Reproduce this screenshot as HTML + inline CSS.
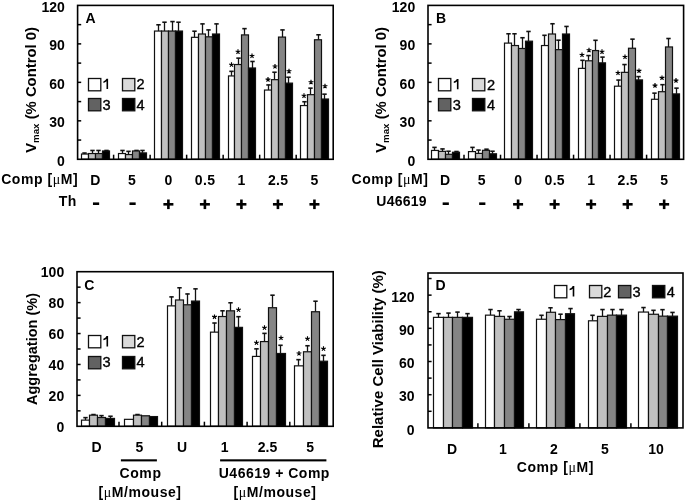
<!DOCTYPE html><html><head><meta charset="utf-8"><style>html,body{margin:0;padding:0;background:#fff;}svg{display:block;filter:grayscale(1);font-family:"Liberation Sans",sans-serif;}html,body{overflow:hidden;}</style></head><body>
<svg width="685" height="501" viewBox="0 0 685 501" font-family="Liberation Sans, sans-serif">
<rect width="685" height="501" fill="#fff"/>
<line x1="84.50" y1="154.04" x2="84.50" y2="152.89" stroke="#111" stroke-width="1.3"/>
<line x1="82.30" y1="153.04" x2="86.70" y2="153.04" stroke="#111" stroke-width="1.6"/>
<line x1="92.50" y1="153.53" x2="92.50" y2="150.32" stroke="#111" stroke-width="1.3"/>
<line x1="90.30" y1="150.47" x2="94.70" y2="150.47" stroke="#111" stroke-width="1.6"/>
<line x1="98.50" y1="153.53" x2="98.50" y2="150.32" stroke="#111" stroke-width="1.3"/>
<line x1="96.30" y1="150.47" x2="100.70" y2="150.47" stroke="#111" stroke-width="1.6"/>
<line x1="106.50" y1="150.96" x2="106.50" y2="150.32" stroke="#111" stroke-width="1.3"/>
<line x1="104.30" y1="150.47" x2="108.70" y2="150.47" stroke="#111" stroke-width="1.6"/>
<rect x="81.50" y="154.04" width="7.00" height="5.26" fill="#ffffff" stroke="#111" stroke-width="1.2"/>
<rect x="88.50" y="153.53" width="7.00" height="5.77" fill="#c0c0c0" stroke="#111" stroke-width="1.2"/>
<rect x="95.50" y="153.53" width="7.00" height="5.77" fill="#858585" stroke="#111" stroke-width="1.2"/>
<rect x="102.50" y="150.96" width="7.00" height="8.34" fill="#000000" stroke="#111" stroke-width="1.2"/>
<line x1="122.50" y1="153.53" x2="122.50" y2="150.32" stroke="#111" stroke-width="1.3"/>
<line x1="120.30" y1="150.47" x2="124.70" y2="150.47" stroke="#111" stroke-width="1.6"/>
<line x1="128.50" y1="154.55" x2="128.50" y2="151.22" stroke="#111" stroke-width="1.3"/>
<line x1="126.30" y1="151.37" x2="130.70" y2="151.37" stroke="#111" stroke-width="1.6"/>
<line x1="136.50" y1="150.96" x2="136.50" y2="150.32" stroke="#111" stroke-width="1.3"/>
<line x1="134.30" y1="150.47" x2="138.70" y2="150.47" stroke="#111" stroke-width="1.6"/>
<line x1="142.50" y1="152.89" x2="142.50" y2="150.32" stroke="#111" stroke-width="1.3"/>
<line x1="140.30" y1="150.47" x2="144.70" y2="150.47" stroke="#111" stroke-width="1.6"/>
<rect x="118.50" y="153.53" width="7.00" height="5.77" fill="#ffffff" stroke="#111" stroke-width="1.2"/>
<rect x="125.50" y="154.55" width="7.00" height="4.75" fill="#c0c0c0" stroke="#111" stroke-width="1.2"/>
<rect x="132.50" y="150.96" width="7.00" height="8.34" fill="#858585" stroke="#111" stroke-width="1.2"/>
<rect x="139.50" y="152.89" width="7.00" height="6.41" fill="#000000" stroke="#111" stroke-width="1.2"/>
<line x1="158.50" y1="31.05" x2="158.50" y2="24.64" stroke="#111" stroke-width="1.3"/>
<line x1="156.30" y1="24.79" x2="160.70" y2="24.79" stroke="#111" stroke-width="1.6"/>
<line x1="164.50" y1="31.05" x2="164.50" y2="22.07" stroke="#111" stroke-width="1.3"/>
<line x1="162.30" y1="22.22" x2="166.70" y2="22.22" stroke="#111" stroke-width="1.6"/>
<line x1="172.50" y1="31.05" x2="172.50" y2="21.43" stroke="#111" stroke-width="1.3"/>
<line x1="170.30" y1="21.58" x2="174.70" y2="21.58" stroke="#111" stroke-width="1.6"/>
<line x1="178.50" y1="31.05" x2="178.50" y2="22.07" stroke="#111" stroke-width="1.3"/>
<line x1="176.30" y1="22.22" x2="180.70" y2="22.22" stroke="#111" stroke-width="1.6"/>
<rect x="154.50" y="31.05" width="7.00" height="128.25" fill="#ffffff" stroke="#111" stroke-width="1.2"/>
<rect x="161.50" y="31.05" width="7.00" height="128.25" fill="#c0c0c0" stroke="#111" stroke-width="1.2"/>
<rect x="168.50" y="31.05" width="7.00" height="128.25" fill="#858585" stroke="#111" stroke-width="1.2"/>
<rect x="175.50" y="31.05" width="7.00" height="128.25" fill="#000000" stroke="#111" stroke-width="1.2"/>
<line x1="194.50" y1="37.33" x2="194.50" y2="31.05" stroke="#111" stroke-width="1.3"/>
<line x1="192.30" y1="31.20" x2="196.70" y2="31.20" stroke="#111" stroke-width="1.6"/>
<line x1="202.50" y1="34.00" x2="202.50" y2="23.74" stroke="#111" stroke-width="1.3"/>
<line x1="200.30" y1="23.89" x2="204.70" y2="23.89" stroke="#111" stroke-width="1.6"/>
<line x1="208.50" y1="36.82" x2="208.50" y2="29.77" stroke="#111" stroke-width="1.3"/>
<line x1="206.30" y1="29.92" x2="210.70" y2="29.92" stroke="#111" stroke-width="1.6"/>
<line x1="216.50" y1="34.00" x2="216.50" y2="23.74" stroke="#111" stroke-width="1.3"/>
<line x1="214.30" y1="23.89" x2="218.70" y2="23.89" stroke="#111" stroke-width="1.6"/>
<rect x="191.50" y="37.33" width="7.00" height="121.97" fill="#ffffff" stroke="#111" stroke-width="1.2"/>
<rect x="198.50" y="34.00" width="7.00" height="125.30" fill="#c0c0c0" stroke="#111" stroke-width="1.2"/>
<rect x="205.50" y="36.82" width="7.00" height="122.48" fill="#858585" stroke="#111" stroke-width="1.2"/>
<rect x="212.50" y="34.00" width="7.00" height="125.30" fill="#000000" stroke="#111" stroke-width="1.2"/>
<line x1="231.50" y1="75.94" x2="231.50" y2="71.19" stroke="#111" stroke-width="1.3"/>
<line x1="229.30" y1="71.34" x2="233.70" y2="71.34" stroke="#111" stroke-width="1.6"/>
<line x1="238.50" y1="64.52" x2="238.50" y2="57.98" stroke="#111" stroke-width="1.3"/>
<line x1="236.30" y1="58.13" x2="240.70" y2="58.13" stroke="#111" stroke-width="1.6"/>
<line x1="244.50" y1="34.90" x2="244.50" y2="28.49" stroke="#111" stroke-width="1.3"/>
<line x1="242.30" y1="28.64" x2="246.70" y2="28.64" stroke="#111" stroke-width="1.6"/>
<line x1="252.50" y1="67.99" x2="252.50" y2="61.32" stroke="#111" stroke-width="1.3"/>
<line x1="250.30" y1="61.47" x2="254.70" y2="61.47" stroke="#111" stroke-width="1.6"/>
<rect x="228.50" y="75.94" width="6.00" height="83.36" fill="#ffffff" stroke="#111" stroke-width="1.2"/>
<rect x="234.50" y="64.52" width="7.00" height="94.78" fill="#c0c0c0" stroke="#111" stroke-width="1.2"/>
<rect x="241.50" y="34.90" width="7.00" height="124.40" fill="#858585" stroke="#111" stroke-width="1.2"/>
<rect x="248.50" y="67.99" width="7.00" height="91.31" fill="#000000" stroke="#111" stroke-width="1.2"/>
<path d="M231.50 64.70L231.50 62.20M231.50 64.70L233.88 63.93M231.50 64.70L232.97 66.72M231.50 64.70L230.03 66.72M231.50 64.70L229.12 63.93" stroke="#000" stroke-width="1.15" stroke-linecap="butt" fill="none"/>
<path d="M238.00 51.80L238.00 49.30M238.00 51.80L240.38 51.03M238.00 51.80L239.47 53.82M238.00 51.80L236.53 53.82M238.00 51.80L235.62 51.03" stroke="#000" stroke-width="1.15" stroke-linecap="butt" fill="none"/>
<path d="M252.00 56.00L252.00 53.50M252.00 56.00L254.38 55.23M252.00 56.00L253.47 58.02M252.00 56.00L250.53 58.02M252.00 56.00L249.62 55.23" stroke="#000" stroke-width="1.15" stroke-linecap="butt" fill="none"/>
<line x1="268.50" y1="90.05" x2="268.50" y2="84.79" stroke="#111" stroke-width="1.3"/>
<line x1="266.30" y1="84.94" x2="270.70" y2="84.94" stroke="#111" stroke-width="1.6"/>
<line x1="274.50" y1="79.66" x2="274.50" y2="72.09" stroke="#111" stroke-width="1.3"/>
<line x1="272.30" y1="72.24" x2="276.70" y2="72.24" stroke="#111" stroke-width="1.6"/>
<line x1="282.50" y1="37.08" x2="282.50" y2="29.77" stroke="#111" stroke-width="1.3"/>
<line x1="280.30" y1="29.92" x2="284.70" y2="29.92" stroke="#111" stroke-width="1.6"/>
<line x1="288.50" y1="83.12" x2="288.50" y2="77.09" stroke="#111" stroke-width="1.3"/>
<line x1="286.30" y1="77.24" x2="290.70" y2="77.24" stroke="#111" stroke-width="1.6"/>
<rect x="264.50" y="90.05" width="7.00" height="69.25" fill="#ffffff" stroke="#111" stroke-width="1.2"/>
<rect x="271.50" y="79.66" width="7.00" height="79.64" fill="#c0c0c0" stroke="#111" stroke-width="1.2"/>
<rect x="278.50" y="37.08" width="7.00" height="122.22" fill="#858585" stroke="#111" stroke-width="1.2"/>
<rect x="285.50" y="83.12" width="7.00" height="76.18" fill="#000000" stroke="#111" stroke-width="1.2"/>
<path d="M268.00 79.60L268.00 77.10M268.00 79.60L270.38 78.83M268.00 79.60L269.47 81.62M268.00 79.60L266.53 81.62M268.00 79.60L265.62 78.83" stroke="#000" stroke-width="1.15" stroke-linecap="butt" fill="none"/>
<path d="M275.00 66.50L275.00 64.00M275.00 66.50L277.38 65.73M275.00 66.50L276.47 68.52M275.00 66.50L273.53 68.52M275.00 66.50L272.62 65.73" stroke="#000" stroke-width="1.15" stroke-linecap="butt" fill="none"/>
<path d="M289.00 71.30L289.00 68.80M289.00 71.30L291.38 70.53M289.00 71.30L290.47 73.32M289.00 71.30L287.53 73.32M289.00 71.30L286.62 70.53" stroke="#000" stroke-width="1.15" stroke-linecap="butt" fill="none"/>
<line x1="304.50" y1="105.56" x2="304.50" y2="101.59" stroke="#111" stroke-width="1.3"/>
<line x1="302.30" y1="101.74" x2="306.70" y2="101.74" stroke="#111" stroke-width="1.6"/>
<line x1="310.50" y1="94.66" x2="310.50" y2="87.99" stroke="#111" stroke-width="1.3"/>
<line x1="308.30" y1="88.14" x2="312.70" y2="88.14" stroke="#111" stroke-width="1.6"/>
<line x1="318.50" y1="39.77" x2="318.50" y2="34.64" stroke="#111" stroke-width="1.3"/>
<line x1="316.30" y1="34.79" x2="320.70" y2="34.79" stroke="#111" stroke-width="1.6"/>
<line x1="324.50" y1="99.02" x2="324.50" y2="94.02" stroke="#111" stroke-width="1.3"/>
<line x1="322.30" y1="94.17" x2="326.70" y2="94.17" stroke="#111" stroke-width="1.6"/>
<rect x="300.50" y="105.56" width="7.00" height="53.74" fill="#ffffff" stroke="#111" stroke-width="1.2"/>
<rect x="307.50" y="94.66" width="7.00" height="64.64" fill="#c0c0c0" stroke="#111" stroke-width="1.2"/>
<rect x="314.50" y="39.77" width="7.00" height="119.53" fill="#858585" stroke="#111" stroke-width="1.2"/>
<rect x="321.50" y="99.02" width="7.00" height="60.28" fill="#000000" stroke="#111" stroke-width="1.2"/>
<path d="M304.00 95.80L304.00 93.30M304.00 95.80L306.38 95.03M304.00 95.80L305.47 97.82M304.00 95.80L302.53 97.82M304.00 95.80L301.62 95.03" stroke="#000" stroke-width="1.15" stroke-linecap="butt" fill="none"/>
<path d="M311.00 82.20L311.00 79.70M311.00 82.20L313.38 81.43M311.00 82.20L312.47 84.22M311.00 82.20L309.53 84.22M311.00 82.20L308.62 81.43" stroke="#000" stroke-width="1.15" stroke-linecap="butt" fill="none"/>
<path d="M325.00 86.20L325.00 83.70M325.00 86.20L327.38 85.43M325.00 86.20L326.47 88.22M325.00 86.20L323.53 88.22M325.00 86.20L322.62 85.43" stroke="#000" stroke-width="1.15" stroke-linecap="butt" fill="none"/>
<rect x="77.60" y="5.40" width="255.60" height="153.90" fill="none" stroke="#000" stroke-width="1.6"/>
<line x1="77.60" y1="140.06" x2="81.20" y2="140.06" stroke="#000" stroke-width="1.5"/>
<line x1="77.60" y1="120.83" x2="81.20" y2="120.83" stroke="#000" stroke-width="1.5"/>
<line x1="77.60" y1="101.59" x2="81.20" y2="101.59" stroke="#000" stroke-width="1.5"/>
<line x1="77.60" y1="82.35" x2="81.20" y2="82.35" stroke="#000" stroke-width="1.5"/>
<line x1="77.60" y1="63.11" x2="81.20" y2="63.11" stroke="#000" stroke-width="1.5"/>
<line x1="77.60" y1="43.88" x2="81.20" y2="43.88" stroke="#000" stroke-width="1.5"/>
<line x1="77.60" y1="24.64" x2="81.20" y2="24.64" stroke="#000" stroke-width="1.5"/>
<line x1="113.61" y1="159.30" x2="113.61" y2="154.70" stroke="#000" stroke-width="1.5"/>
<line x1="150.13" y1="159.30" x2="150.13" y2="154.70" stroke="#000" stroke-width="1.5"/>
<line x1="186.64" y1="159.30" x2="186.64" y2="154.70" stroke="#000" stroke-width="1.5"/>
<line x1="223.16" y1="159.30" x2="223.16" y2="154.70" stroke="#000" stroke-width="1.5"/>
<line x1="259.67" y1="159.30" x2="259.67" y2="154.70" stroke="#000" stroke-width="1.5"/>
<line x1="296.19" y1="159.30" x2="296.19" y2="154.70" stroke="#000" stroke-width="1.5"/>
<text x="64.80" y="165.60" font-size="14" text-anchor="end" font-weight="bold" >0</text>
<text x="64.80" y="127.13" font-size="14" text-anchor="end" font-weight="bold" >30</text>
<text x="64.80" y="88.65" font-size="14" text-anchor="end" font-weight="bold" >60</text>
<text x="64.80" y="50.18" font-size="14" text-anchor="end" font-weight="bold" >90</text>
<text x="64.80" y="11.70" font-size="14" text-anchor="end" font-weight="bold" >120</text>
<text x="85.50" y="23.10" font-size="14" text-anchor="start" font-weight="bold" >A</text>
<rect x="88.50" y="78.50" width="12.30" height="12.30" fill="#ffffff" stroke="#111" stroke-width="1.3"/>
<path d="M106.50 78.70L108.10 78.70L108.10 89.00L106.50 89.00L106.50 81.30Q105.30 82.50 103.40 82.90L103.40 81.40Q105.70 80.60 106.50 78.70Z" fill="#000"/>
<rect x="122.50" y="78.50" width="12.30" height="12.30" fill="#d9d9d9" stroke="#111" stroke-width="1.3"/>
<text x="136.50" y="89.30" font-size="14.6" font-weight="normal" stroke="#000" stroke-width="0.35">2</text>
<rect x="88.50" y="98.50" width="12.30" height="12.30" fill="#626262" stroke="#111" stroke-width="1.3"/>
<text x="102.40" y="109.70" font-size="14.6" font-weight="normal" stroke="#000" stroke-width="0.35">3</text>
<rect x="122.50" y="98.50" width="12.30" height="12.30" fill="#000000" stroke="#111" stroke-width="1.3"/>
<text x="136.50" y="109.70" font-size="14.6" font-weight="normal" stroke="#000" stroke-width="0.35">4</text>
<line x1="434.50" y1="150.45" x2="434.50" y2="147.24" stroke="#111" stroke-width="1.3"/>
<line x1="432.30" y1="147.39" x2="436.70" y2="147.39" stroke="#111" stroke-width="1.6"/>
<line x1="442.50" y1="151.35" x2="442.50" y2="148.78" stroke="#111" stroke-width="1.3"/>
<line x1="440.30" y1="148.93" x2="444.70" y2="148.93" stroke="#111" stroke-width="1.6"/>
<line x1="448.50" y1="154.30" x2="448.50" y2="151.09" stroke="#111" stroke-width="1.3"/>
<line x1="446.30" y1="151.24" x2="450.70" y2="151.24" stroke="#111" stroke-width="1.6"/>
<line x1="456.50" y1="152.25" x2="456.50" y2="151.35" stroke="#111" stroke-width="1.3"/>
<line x1="454.30" y1="151.50" x2="458.70" y2="151.50" stroke="#111" stroke-width="1.6"/>
<rect x="431.50" y="150.45" width="7.00" height="8.85" fill="#ffffff" stroke="#111" stroke-width="1.2"/>
<rect x="438.50" y="151.35" width="7.00" height="7.95" fill="#c0c0c0" stroke="#111" stroke-width="1.2"/>
<rect x="445.50" y="154.30" width="7.00" height="5.00" fill="#858585" stroke="#111" stroke-width="1.2"/>
<rect x="452.50" y="152.25" width="7.00" height="7.05" fill="#000000" stroke="#111" stroke-width="1.2"/>
<line x1="472.50" y1="151.61" x2="472.50" y2="147.24" stroke="#111" stroke-width="1.3"/>
<line x1="470.30" y1="147.39" x2="474.70" y2="147.39" stroke="#111" stroke-width="1.6"/>
<line x1="478.50" y1="153.40" x2="478.50" y2="149.94" stroke="#111" stroke-width="1.3"/>
<line x1="476.30" y1="150.09" x2="480.70" y2="150.09" stroke="#111" stroke-width="1.6"/>
<line x1="486.50" y1="150.32" x2="486.50" y2="149.04" stroke="#111" stroke-width="1.3"/>
<line x1="484.30" y1="149.19" x2="488.70" y2="149.19" stroke="#111" stroke-width="1.6"/>
<line x1="492.50" y1="153.79" x2="492.50" y2="151.09" stroke="#111" stroke-width="1.3"/>
<line x1="490.30" y1="151.24" x2="494.70" y2="151.24" stroke="#111" stroke-width="1.6"/>
<rect x="468.50" y="151.61" width="7.00" height="7.69" fill="#ffffff" stroke="#111" stroke-width="1.2"/>
<rect x="475.50" y="153.40" width="7.00" height="5.90" fill="#c0c0c0" stroke="#111" stroke-width="1.2"/>
<rect x="482.50" y="150.32" width="7.00" height="8.98" fill="#858585" stroke="#111" stroke-width="1.2"/>
<rect x="489.50" y="153.79" width="7.00" height="5.51" fill="#000000" stroke="#111" stroke-width="1.2"/>
<line x1="508.50" y1="43.11" x2="508.50" y2="33.62" stroke="#111" stroke-width="1.3"/>
<line x1="506.30" y1="33.77" x2="510.70" y2="33.77" stroke="#111" stroke-width="1.6"/>
<line x1="514.50" y1="45.54" x2="514.50" y2="33.62" stroke="#111" stroke-width="1.3"/>
<line x1="512.30" y1="33.77" x2="516.70" y2="33.77" stroke="#111" stroke-width="1.6"/>
<line x1="522.50" y1="48.49" x2="522.50" y2="37.59" stroke="#111" stroke-width="1.3"/>
<line x1="520.30" y1="37.74" x2="524.70" y2="37.74" stroke="#111" stroke-width="1.6"/>
<line x1="528.50" y1="41.18" x2="528.50" y2="31.31" stroke="#111" stroke-width="1.3"/>
<line x1="526.30" y1="31.46" x2="530.70" y2="31.46" stroke="#111" stroke-width="1.6"/>
<rect x="504.50" y="43.11" width="7.00" height="116.19" fill="#ffffff" stroke="#111" stroke-width="1.2"/>
<rect x="511.50" y="45.54" width="7.00" height="113.76" fill="#c0c0c0" stroke="#111" stroke-width="1.2"/>
<rect x="518.50" y="48.49" width="7.00" height="110.81" fill="#858585" stroke="#111" stroke-width="1.2"/>
<rect x="525.50" y="41.18" width="7.00" height="118.12" fill="#000000" stroke="#111" stroke-width="1.2"/>
<line x1="544.50" y1="45.54" x2="544.50" y2="35.15" stroke="#111" stroke-width="1.3"/>
<line x1="542.30" y1="35.30" x2="546.70" y2="35.30" stroke="#111" stroke-width="1.6"/>
<line x1="552.50" y1="34.00" x2="552.50" y2="23.61" stroke="#111" stroke-width="1.3"/>
<line x1="550.30" y1="23.76" x2="554.70" y2="23.76" stroke="#111" stroke-width="1.6"/>
<line x1="558.50" y1="49.65" x2="558.50" y2="40.03" stroke="#111" stroke-width="1.3"/>
<line x1="556.30" y1="40.18" x2="560.70" y2="40.18" stroke="#111" stroke-width="1.6"/>
<line x1="566.50" y1="34.00" x2="566.50" y2="26.30" stroke="#111" stroke-width="1.3"/>
<line x1="564.30" y1="26.45" x2="568.70" y2="26.45" stroke="#111" stroke-width="1.6"/>
<rect x="541.50" y="45.54" width="7.00" height="113.76" fill="#ffffff" stroke="#111" stroke-width="1.2"/>
<rect x="548.50" y="34.00" width="7.00" height="125.30" fill="#c0c0c0" stroke="#111" stroke-width="1.2"/>
<rect x="555.50" y="49.65" width="7.00" height="109.65" fill="#858585" stroke="#111" stroke-width="1.2"/>
<rect x="562.50" y="34.00" width="7.00" height="125.30" fill="#000000" stroke="#111" stroke-width="1.2"/>
<line x1="582.50" y1="68.37" x2="582.50" y2="60.16" stroke="#111" stroke-width="1.3"/>
<line x1="580.30" y1="60.31" x2="584.70" y2="60.31" stroke="#111" stroke-width="1.6"/>
<line x1="588.50" y1="60.80" x2="588.50" y2="55.42" stroke="#111" stroke-width="1.3"/>
<line x1="586.30" y1="55.57" x2="590.70" y2="55.57" stroke="#111" stroke-width="1.6"/>
<line x1="595.50" y1="50.54" x2="595.50" y2="40.16" stroke="#111" stroke-width="1.3"/>
<line x1="593.30" y1="40.31" x2="597.70" y2="40.31" stroke="#111" stroke-width="1.6"/>
<line x1="602.50" y1="62.86" x2="602.50" y2="56.96" stroke="#111" stroke-width="1.3"/>
<line x1="600.30" y1="57.11" x2="604.70" y2="57.11" stroke="#111" stroke-width="1.6"/>
<rect x="578.50" y="68.37" width="7.00" height="90.93" fill="#ffffff" stroke="#111" stroke-width="1.2"/>
<rect x="585.50" y="60.80" width="7.00" height="98.50" fill="#c0c0c0" stroke="#111" stroke-width="1.2"/>
<rect x="592.50" y="50.54" width="6.00" height="108.76" fill="#858585" stroke="#111" stroke-width="1.2"/>
<rect x="598.50" y="62.86" width="7.00" height="96.44" fill="#000000" stroke="#111" stroke-width="1.2"/>
<path d="M582.00 55.00L582.00 52.50M582.00 55.00L584.38 54.23M582.00 55.00L583.47 57.02M582.00 55.00L580.53 57.02M582.00 55.00L579.62 54.23" stroke="#000" stroke-width="1.15" stroke-linecap="butt" fill="none"/>
<path d="M589.00 50.20L589.00 47.70M589.00 50.20L591.38 49.43M589.00 50.20L590.47 52.22M589.00 50.20L587.53 52.22M589.00 50.20L586.62 49.43" stroke="#000" stroke-width="1.15" stroke-linecap="butt" fill="none"/>
<path d="M602.00 51.80L602.00 49.30M602.00 51.80L604.38 51.03M602.00 51.80L603.47 53.82M602.00 51.80L600.53 53.82M602.00 51.80L599.62 51.03" stroke="#000" stroke-width="1.15" stroke-linecap="butt" fill="none"/>
<line x1="618.50" y1="86.20" x2="618.50" y2="79.91" stroke="#111" stroke-width="1.3"/>
<line x1="616.30" y1="80.06" x2="620.70" y2="80.06" stroke="#111" stroke-width="1.6"/>
<line x1="624.50" y1="72.35" x2="624.50" y2="64.40" stroke="#111" stroke-width="1.3"/>
<line x1="622.30" y1="64.55" x2="626.70" y2="64.55" stroke="#111" stroke-width="1.6"/>
<line x1="632.50" y1="48.24" x2="632.50" y2="39.00" stroke="#111" stroke-width="1.3"/>
<line x1="630.30" y1="39.15" x2="634.70" y2="39.15" stroke="#111" stroke-width="1.6"/>
<line x1="638.50" y1="79.91" x2="638.50" y2="76.45" stroke="#111" stroke-width="1.3"/>
<line x1="636.30" y1="76.60" x2="640.70" y2="76.60" stroke="#111" stroke-width="1.6"/>
<rect x="614.50" y="86.20" width="7.00" height="73.10" fill="#ffffff" stroke="#111" stroke-width="1.2"/>
<rect x="621.50" y="72.35" width="7.00" height="86.95" fill="#c0c0c0" stroke="#111" stroke-width="1.2"/>
<rect x="628.50" y="48.24" width="7.00" height="111.06" fill="#858585" stroke="#111" stroke-width="1.2"/>
<rect x="635.50" y="79.91" width="7.00" height="79.39" fill="#000000" stroke="#111" stroke-width="1.2"/>
<path d="M618.00 73.00L618.00 70.50M618.00 73.00L620.38 72.23M618.00 73.00L619.47 75.02M618.00 73.00L616.53 75.02M618.00 73.00L615.62 72.23" stroke="#000" stroke-width="1.15" stroke-linecap="butt" fill="none"/>
<path d="M625.00 57.00L625.00 54.50M625.00 57.00L627.38 56.23M625.00 57.00L626.47 59.02M625.00 57.00L623.53 59.02M625.00 57.00L622.62 56.23" stroke="#000" stroke-width="1.15" stroke-linecap="butt" fill="none"/>
<path d="M639.00 70.90L639.00 68.40M639.00 70.90L641.38 70.13M639.00 70.90L640.47 72.92M639.00 70.90L637.53 72.92M639.00 70.90L636.62 70.13" stroke="#000" stroke-width="1.15" stroke-linecap="butt" fill="none"/>
<line x1="654.50" y1="99.28" x2="654.50" y2="92.99" stroke="#111" stroke-width="1.3"/>
<line x1="652.30" y1="93.14" x2="656.70" y2="93.14" stroke="#111" stroke-width="1.6"/>
<line x1="662.50" y1="91.71" x2="662.50" y2="84.53" stroke="#111" stroke-width="1.3"/>
<line x1="660.30" y1="84.68" x2="664.70" y2="84.68" stroke="#111" stroke-width="1.6"/>
<line x1="668.50" y1="46.95" x2="668.50" y2="38.36" stroke="#111" stroke-width="1.3"/>
<line x1="666.30" y1="38.51" x2="670.70" y2="38.51" stroke="#111" stroke-width="1.6"/>
<line x1="676.50" y1="93.89" x2="676.50" y2="87.99" stroke="#111" stroke-width="1.3"/>
<line x1="674.30" y1="88.14" x2="678.70" y2="88.14" stroke="#111" stroke-width="1.6"/>
<rect x="651.50" y="99.28" width="7.00" height="60.02" fill="#ffffff" stroke="#111" stroke-width="1.2"/>
<rect x="658.50" y="91.71" width="7.00" height="67.59" fill="#c0c0c0" stroke="#111" stroke-width="1.2"/>
<rect x="665.50" y="46.95" width="7.00" height="112.35" fill="#858585" stroke="#111" stroke-width="1.2"/>
<rect x="672.50" y="93.89" width="7.00" height="65.41" fill="#000000" stroke="#111" stroke-width="1.2"/>
<path d="M655.00 85.60L655.00 83.10M655.00 85.60L657.38 84.83M655.00 85.60L656.47 87.62M655.00 85.60L653.53 87.62M655.00 85.60L652.62 84.83" stroke="#000" stroke-width="1.15" stroke-linecap="butt" fill="none"/>
<path d="M662.00 77.90L662.00 75.40M662.00 77.90L664.38 77.13M662.00 77.90L663.47 79.92M662.00 77.90L660.53 79.92M662.00 77.90L659.62 77.13" stroke="#000" stroke-width="1.15" stroke-linecap="butt" fill="none"/>
<path d="M676.00 80.60L676.00 78.10M676.00 80.60L678.38 79.83M676.00 80.60L677.47 82.62M676.00 80.60L674.53 82.62M676.00 80.60L673.62 79.83" stroke="#000" stroke-width="1.15" stroke-linecap="butt" fill="none"/>
<rect x="428.00" y="5.40" width="255.60" height="153.90" fill="none" stroke="#000" stroke-width="1.6"/>
<line x1="428.00" y1="140.06" x2="431.60" y2="140.06" stroke="#000" stroke-width="1.5"/>
<line x1="428.00" y1="120.83" x2="431.60" y2="120.83" stroke="#000" stroke-width="1.5"/>
<line x1="428.00" y1="101.59" x2="431.60" y2="101.59" stroke="#000" stroke-width="1.5"/>
<line x1="428.00" y1="82.35" x2="431.60" y2="82.35" stroke="#000" stroke-width="1.5"/>
<line x1="428.00" y1="63.11" x2="431.60" y2="63.11" stroke="#000" stroke-width="1.5"/>
<line x1="428.00" y1="43.88" x2="431.60" y2="43.88" stroke="#000" stroke-width="1.5"/>
<line x1="428.00" y1="24.64" x2="431.60" y2="24.64" stroke="#000" stroke-width="1.5"/>
<line x1="464.01" y1="159.30" x2="464.01" y2="154.70" stroke="#000" stroke-width="1.5"/>
<line x1="500.53" y1="159.30" x2="500.53" y2="154.70" stroke="#000" stroke-width="1.5"/>
<line x1="537.04" y1="159.30" x2="537.04" y2="154.70" stroke="#000" stroke-width="1.5"/>
<line x1="573.56" y1="159.30" x2="573.56" y2="154.70" stroke="#000" stroke-width="1.5"/>
<line x1="610.07" y1="159.30" x2="610.07" y2="154.70" stroke="#000" stroke-width="1.5"/>
<line x1="646.59" y1="159.30" x2="646.59" y2="154.70" stroke="#000" stroke-width="1.5"/>
<text x="415.20" y="165.60" font-size="14" text-anchor="end" font-weight="bold" >0</text>
<text x="415.20" y="127.13" font-size="14" text-anchor="end" font-weight="bold" >30</text>
<text x="415.20" y="88.65" font-size="14" text-anchor="end" font-weight="bold" >60</text>
<text x="415.20" y="50.18" font-size="14" text-anchor="end" font-weight="bold" >90</text>
<text x="415.20" y="11.70" font-size="14" text-anchor="end" font-weight="bold" >120</text>
<text x="436.00" y="22.60" font-size="14" text-anchor="start" font-weight="bold" >B</text>
<rect x="438.50" y="78.50" width="12.30" height="12.30" fill="#ffffff" stroke="#111" stroke-width="1.3"/>
<path d="M456.90 78.90L458.50 78.90L458.50 89.20L456.90 89.20L456.90 81.50Q455.70 82.70 453.80 83.10L453.80 81.60Q456.10 80.80 456.90 78.90Z" fill="#000"/>
<rect x="472.50" y="78.50" width="12.30" height="12.30" fill="#d9d9d9" stroke="#111" stroke-width="1.3"/>
<text x="486.90" y="89.50" font-size="14.6" font-weight="normal" stroke="#000" stroke-width="0.35">2</text>
<rect x="438.50" y="98.50" width="12.30" height="12.30" fill="#626262" stroke="#111" stroke-width="1.3"/>
<text x="452.80" y="109.90" font-size="14.6" font-weight="normal" stroke="#000" stroke-width="0.35">3</text>
<rect x="472.50" y="98.50" width="12.30" height="12.30" fill="#000000" stroke="#111" stroke-width="1.3"/>
<text x="486.90" y="109.90" font-size="14.6" font-weight="normal" stroke="#000" stroke-width="0.35">4</text>
<text x="95.36" y="185.30" font-size="14" text-anchor="middle" font-weight="bold" >D</text>
<rect x="92.96" y="202.40" width="6.2" height="2.6" fill="#000"/>
<text x="131.87" y="185.30" font-size="14" text-anchor="middle" font-weight="bold" >5</text>
<rect x="129.47" y="202.40" width="6.2" height="2.6" fill="#000"/>
<text x="168.39" y="185.30" font-size="14" text-anchor="middle" font-weight="bold" >0</text>
<rect x="163.39" y="203.00" width="10" height="2.6" fill="#000"/>
<rect x="167.09" y="199.50" width="2.6" height="9.6" fill="#000"/>
<text x="205.05" y="185.30" font-size="14" text-anchor="middle" font-weight="bold"  letter-spacing="0.3">0.5</text>
<rect x="199.90" y="203.00" width="10" height="2.6" fill="#000"/>
<rect x="203.60" y="199.50" width="2.6" height="9.6" fill="#000"/>
<text x="241.41" y="185.30" font-size="14" text-anchor="middle" font-weight="bold" >1</text>
<rect x="236.41" y="203.00" width="10" height="2.6" fill="#000"/>
<rect x="240.11" y="199.50" width="2.6" height="9.6" fill="#000"/>
<text x="278.08" y="185.30" font-size="14" text-anchor="middle" font-weight="bold"  letter-spacing="0.3">2.5</text>
<rect x="272.93" y="203.00" width="10" height="2.6" fill="#000"/>
<rect x="276.63" y="199.50" width="2.6" height="9.6" fill="#000"/>
<text x="314.44" y="185.30" font-size="14" text-anchor="middle" font-weight="bold" >5</text>
<rect x="309.44" y="203.00" width="10" height="2.6" fill="#000"/>
<rect x="313.14" y="199.50" width="2.6" height="9.6" fill="#000"/>
<text x="78.15" y="183.60" font-size="14" text-anchor="end" font-weight="bold"  letter-spacing="0.55">Comp [<tspan font-family="Liberation Serif, serif" font-weight="normal">μ</tspan>M]</text>
<text x="76.60" y="205.80" font-size="14" text-anchor="end" font-weight="bold"  letter-spacing="0.4">Th</text>
<text x="445.06" y="185.30" font-size="14" text-anchor="middle" font-weight="bold" >D</text>
<rect x="442.66" y="202.40" width="6.2" height="2.6" fill="#000"/>
<text x="481.57" y="185.30" font-size="14" text-anchor="middle" font-weight="bold" >5</text>
<rect x="479.17" y="202.40" width="6.2" height="2.6" fill="#000"/>
<text x="518.09" y="185.30" font-size="14" text-anchor="middle" font-weight="bold" >0</text>
<rect x="513.09" y="203.00" width="10" height="2.6" fill="#000"/>
<rect x="516.79" y="199.50" width="2.6" height="9.6" fill="#000"/>
<text x="554.75" y="185.30" font-size="14" text-anchor="middle" font-weight="bold"  letter-spacing="0.3">0.5</text>
<rect x="549.60" y="203.00" width="10" height="2.6" fill="#000"/>
<rect x="553.30" y="199.50" width="2.6" height="9.6" fill="#000"/>
<text x="591.11" y="185.30" font-size="14" text-anchor="middle" font-weight="bold" >1</text>
<rect x="586.11" y="203.00" width="10" height="2.6" fill="#000"/>
<rect x="589.81" y="199.50" width="2.6" height="9.6" fill="#000"/>
<text x="627.78" y="185.30" font-size="14" text-anchor="middle" font-weight="bold"  letter-spacing="0.3">2.5</text>
<rect x="622.63" y="203.00" width="10" height="2.6" fill="#000"/>
<rect x="626.33" y="199.50" width="2.6" height="9.6" fill="#000"/>
<text x="664.14" y="185.30" font-size="14" text-anchor="middle" font-weight="bold" >5</text>
<rect x="659.14" y="203.00" width="10" height="2.6" fill="#000"/>
<rect x="662.84" y="199.50" width="2.6" height="9.6" fill="#000"/>
<text x="428.55" y="183.60" font-size="14" text-anchor="end" font-weight="bold"  letter-spacing="0.55">Comp [<tspan font-family="Liberation Serif, serif" font-weight="normal">μ</tspan>M]</text>
<text x="426.85" y="205.80" font-size="14" text-anchor="end" font-weight="bold"  letter-spacing="0.25">U46619</text>
<text transform="translate(35.70,89.9) rotate(-90)" font-size="14.85" font-weight="bold" text-anchor="middle">V<tspan font-size="9.7" dy="3">max</tspan><tspan dy="-3"> (% Control 0)</tspan></text>
<text transform="translate(386.10,89.9) rotate(-90)" font-size="14.85" font-weight="bold" text-anchor="middle">V<tspan font-size="9.7" dy="3">max</tspan><tspan dy="-3"> (% Control 0)</tspan></text>
<line x1="85.50" y1="420.12" x2="85.50" y2="417.49" stroke="#111" stroke-width="1.3"/>
<line x1="83.30" y1="417.64" x2="87.70" y2="417.64" stroke="#111" stroke-width="1.6"/>
<line x1="93.50" y1="415.17" x2="93.50" y2="414.40" stroke="#111" stroke-width="1.3"/>
<line x1="91.30" y1="414.55" x2="95.70" y2="414.55" stroke="#111" stroke-width="1.6"/>
<line x1="101.50" y1="417.49" x2="101.50" y2="415.48" stroke="#111" stroke-width="1.3"/>
<line x1="99.30" y1="415.63" x2="103.70" y2="415.63" stroke="#111" stroke-width="1.6"/>
<line x1="110.50" y1="418.42" x2="110.50" y2="416.10" stroke="#111" stroke-width="1.3"/>
<line x1="108.30" y1="416.25" x2="112.70" y2="416.25" stroke="#111" stroke-width="1.6"/>
<rect x="81.50" y="420.12" width="8.00" height="6.18" fill="#ffffff" stroke="#111" stroke-width="1.2"/>
<rect x="89.50" y="415.17" width="8.00" height="11.13" fill="#c0c0c0" stroke="#111" stroke-width="1.2"/>
<rect x="97.50" y="417.49" width="8.00" height="8.81" fill="#858585" stroke="#111" stroke-width="1.2"/>
<rect x="105.50" y="418.42" width="9.00" height="7.88" fill="#000000" stroke="#111" stroke-width="1.2"/>
<line x1="137.50" y1="415.17" x2="137.50" y2="414.40" stroke="#111" stroke-width="1.3"/>
<line x1="135.30" y1="414.55" x2="139.70" y2="414.55" stroke="#111" stroke-width="1.6"/>
<rect x="124.50" y="419.34" width="9.00" height="6.96" fill="#ffffff" stroke="#111" stroke-width="1.2"/>
<rect x="133.50" y="415.17" width="8.00" height="11.13" fill="#c0c0c0" stroke="#111" stroke-width="1.2"/>
<rect x="141.50" y="415.79" width="8.00" height="10.51" fill="#858585" stroke="#111" stroke-width="1.2"/>
<rect x="149.50" y="416.56" width="8.00" height="9.74" fill="#000000" stroke="#111" stroke-width="1.2"/>
<line x1="171.50" y1="305.87" x2="171.50" y2="296.75" stroke="#111" stroke-width="1.3"/>
<line x1="169.30" y1="296.90" x2="173.70" y2="296.90" stroke="#111" stroke-width="1.6"/>
<line x1="179.50" y1="299.99" x2="179.50" y2="287.62" stroke="#111" stroke-width="1.3"/>
<line x1="177.30" y1="287.77" x2="181.70" y2="287.77" stroke="#111" stroke-width="1.6"/>
<line x1="187.50" y1="304.78" x2="187.50" y2="293.81" stroke="#111" stroke-width="1.3"/>
<line x1="185.30" y1="293.96" x2="189.70" y2="293.96" stroke="#111" stroke-width="1.6"/>
<line x1="195.50" y1="301.07" x2="195.50" y2="288.71" stroke="#111" stroke-width="1.3"/>
<line x1="193.30" y1="288.86" x2="197.70" y2="288.86" stroke="#111" stroke-width="1.6"/>
<rect x="167.50" y="305.87" width="8.00" height="120.43" fill="#ffffff" stroke="#111" stroke-width="1.2"/>
<rect x="175.50" y="299.99" width="8.00" height="126.31" fill="#c0c0c0" stroke="#111" stroke-width="1.2"/>
<rect x="183.50" y="304.78" width="8.00" height="121.52" fill="#858585" stroke="#111" stroke-width="1.2"/>
<rect x="191.50" y="301.07" width="8.00" height="125.23" fill="#000000" stroke="#111" stroke-width="1.2"/>
<line x1="214.50" y1="332.15" x2="214.50" y2="322.87" stroke="#111" stroke-width="1.3"/>
<line x1="212.30" y1="323.02" x2="216.70" y2="323.02" stroke="#111" stroke-width="1.6"/>
<line x1="222.50" y1="316.53" x2="222.50" y2="310.66" stroke="#111" stroke-width="1.3"/>
<line x1="220.30" y1="310.81" x2="224.70" y2="310.81" stroke="#111" stroke-width="1.6"/>
<line x1="230.50" y1="310.81" x2="230.50" y2="302.62" stroke="#111" stroke-width="1.3"/>
<line x1="228.30" y1="302.77" x2="232.70" y2="302.77" stroke="#111" stroke-width="1.6"/>
<line x1="238.50" y1="327.36" x2="238.50" y2="316.53" stroke="#111" stroke-width="1.3"/>
<line x1="236.30" y1="316.68" x2="240.70" y2="316.68" stroke="#111" stroke-width="1.6"/>
<rect x="210.50" y="332.15" width="8.00" height="94.15" fill="#ffffff" stroke="#111" stroke-width="1.2"/>
<rect x="218.50" y="316.53" width="8.00" height="109.77" fill="#c0c0c0" stroke="#111" stroke-width="1.2"/>
<rect x="226.50" y="310.81" width="8.00" height="115.49" fill="#858585" stroke="#111" stroke-width="1.2"/>
<rect x="234.50" y="327.36" width="8.00" height="98.94" fill="#000000" stroke="#111" stroke-width="1.2"/>
<path d="M214.50 316.90L214.50 314.40M214.50 316.90L216.88 316.13M214.50 316.90L215.97 318.92M214.50 316.90L213.03 318.92M214.50 316.90L212.12 316.13" stroke="#000" stroke-width="1.15" stroke-linecap="butt" fill="none"/>
<path d="M238.50 309.70L238.50 307.20M238.50 309.70L240.88 308.93M238.50 309.70L239.97 311.72M238.50 309.70L237.03 311.72M238.50 309.70L236.12 308.93" stroke="#000" stroke-width="1.15" stroke-linecap="butt" fill="none"/>
<line x1="256.50" y1="356.42" x2="256.50" y2="348.69" stroke="#111" stroke-width="1.3"/>
<line x1="254.30" y1="348.84" x2="258.70" y2="348.84" stroke="#111" stroke-width="1.6"/>
<line x1="264.50" y1="341.58" x2="264.50" y2="333.23" stroke="#111" stroke-width="1.3"/>
<line x1="262.30" y1="333.38" x2="266.70" y2="333.38" stroke="#111" stroke-width="1.6"/>
<line x1="272.50" y1="307.72" x2="272.50" y2="295.04" stroke="#111" stroke-width="1.3"/>
<line x1="270.30" y1="295.19" x2="274.70" y2="295.19" stroke="#111" stroke-width="1.6"/>
<line x1="280.50" y1="353.48" x2="280.50" y2="345.13" stroke="#111" stroke-width="1.3"/>
<line x1="278.30" y1="345.28" x2="282.70" y2="345.28" stroke="#111" stroke-width="1.6"/>
<rect x="252.50" y="356.42" width="8.00" height="69.88" fill="#ffffff" stroke="#111" stroke-width="1.2"/>
<rect x="260.50" y="341.58" width="8.00" height="84.72" fill="#c0c0c0" stroke="#111" stroke-width="1.2"/>
<rect x="268.50" y="307.72" width="8.00" height="118.58" fill="#858585" stroke="#111" stroke-width="1.2"/>
<rect x="276.50" y="353.48" width="9.00" height="72.82" fill="#000000" stroke="#111" stroke-width="1.2"/>
<path d="M256.50 342.70L256.50 340.20M256.50 342.70L258.88 341.93M256.50 342.70L257.97 344.72M256.50 342.70L255.03 344.72M256.50 342.70L254.12 341.93" stroke="#000" stroke-width="1.15" stroke-linecap="butt" fill="none"/>
<path d="M264.50 327.70L264.50 325.20M264.50 327.70L266.88 326.93M264.50 327.70L265.97 329.72M264.50 327.70L263.03 329.72M264.50 327.70L262.12 326.93" stroke="#000" stroke-width="1.15" stroke-linecap="butt" fill="none"/>
<path d="M281.00 338.00L281.00 335.50M281.00 338.00L283.38 337.23M281.00 338.00L282.47 340.02M281.00 338.00L279.53 340.02M281.00 338.00L278.62 337.23" stroke="#000" stroke-width="1.15" stroke-linecap="butt" fill="none"/>
<line x1="298.50" y1="365.85" x2="298.50" y2="359.51" stroke="#111" stroke-width="1.3"/>
<line x1="296.30" y1="359.66" x2="300.70" y2="359.66" stroke="#111" stroke-width="1.6"/>
<line x1="307.50" y1="351.78" x2="307.50" y2="345.60" stroke="#111" stroke-width="1.3"/>
<line x1="305.30" y1="345.75" x2="309.70" y2="345.75" stroke="#111" stroke-width="1.6"/>
<line x1="315.50" y1="311.74" x2="315.50" y2="301.07" stroke="#111" stroke-width="1.3"/>
<line x1="313.30" y1="301.22" x2="317.70" y2="301.22" stroke="#111" stroke-width="1.6"/>
<line x1="323.50" y1="361.21" x2="323.50" y2="355.18" stroke="#111" stroke-width="1.3"/>
<line x1="321.30" y1="355.33" x2="325.70" y2="355.33" stroke="#111" stroke-width="1.6"/>
<rect x="294.50" y="365.85" width="9.00" height="60.45" fill="#ffffff" stroke="#111" stroke-width="1.2"/>
<rect x="303.50" y="351.78" width="8.00" height="74.52" fill="#c0c0c0" stroke="#111" stroke-width="1.2"/>
<rect x="311.50" y="311.74" width="8.00" height="114.56" fill="#858585" stroke="#111" stroke-width="1.2"/>
<rect x="319.50" y="361.21" width="8.00" height="65.09" fill="#000000" stroke="#111" stroke-width="1.2"/>
<path d="M299.00 353.50L299.00 351.00M299.00 353.50L301.38 352.73M299.00 353.50L300.47 355.52M299.00 353.50L297.53 355.52M299.00 353.50L296.62 352.73" stroke="#000" stroke-width="1.15" stroke-linecap="butt" fill="none"/>
<path d="M307.50 338.70L307.50 336.20M307.50 338.70L309.88 337.93M307.50 338.70L308.97 340.72M307.50 338.70L306.03 340.72M307.50 338.70L305.12 337.93" stroke="#000" stroke-width="1.15" stroke-linecap="butt" fill="none"/>
<path d="M323.50 348.70L323.50 346.20M323.50 348.70L325.88 347.93M323.50 348.70L324.97 350.72M323.50 348.70L322.03 350.72M323.50 348.70L321.12 347.93" stroke="#000" stroke-width="1.15" stroke-linecap="butt" fill="none"/>
<rect x="77.00" y="271.70" width="256.20" height="154.60" fill="none" stroke="#000" stroke-width="1.6"/>
<line x1="77.00" y1="410.84" x2="80.60" y2="410.84" stroke="#000" stroke-width="1.5"/>
<line x1="77.00" y1="395.38" x2="80.60" y2="395.38" stroke="#000" stroke-width="1.5"/>
<line x1="77.00" y1="379.92" x2="80.60" y2="379.92" stroke="#000" stroke-width="1.5"/>
<line x1="77.00" y1="364.46" x2="80.60" y2="364.46" stroke="#000" stroke-width="1.5"/>
<line x1="77.00" y1="349.00" x2="80.60" y2="349.00" stroke="#000" stroke-width="1.5"/>
<line x1="77.00" y1="333.54" x2="80.60" y2="333.54" stroke="#000" stroke-width="1.5"/>
<line x1="77.00" y1="318.08" x2="80.60" y2="318.08" stroke="#000" stroke-width="1.5"/>
<line x1="77.00" y1="302.62" x2="80.60" y2="302.62" stroke="#000" stroke-width="1.5"/>
<line x1="77.00" y1="287.16" x2="80.60" y2="287.16" stroke="#000" stroke-width="1.5"/>
<line x1="119.00" y1="426.30" x2="119.00" y2="421.70" stroke="#000" stroke-width="1.5"/>
<line x1="161.70" y1="426.30" x2="161.70" y2="421.70" stroke="#000" stroke-width="1.5"/>
<line x1="204.40" y1="426.30" x2="204.40" y2="421.70" stroke="#000" stroke-width="1.5"/>
<line x1="247.10" y1="426.30" x2="247.10" y2="421.70" stroke="#000" stroke-width="1.5"/>
<line x1="289.80" y1="426.30" x2="289.80" y2="421.70" stroke="#000" stroke-width="1.5"/>
<text x="64.20" y="431.90" font-size="14" text-anchor="end" font-weight="bold" >0</text>
<text x="64.20" y="400.98" font-size="14" text-anchor="end" font-weight="bold" >20</text>
<text x="64.20" y="370.06" font-size="14" text-anchor="end" font-weight="bold" >40</text>
<text x="64.20" y="339.14" font-size="14" text-anchor="end" font-weight="bold" >60</text>
<text x="64.20" y="308.22" font-size="14" text-anchor="end" font-weight="bold" >80</text>
<text x="64.20" y="277.30" font-size="14" text-anchor="end" font-weight="bold" >100</text>
<text x="84.30" y="289.60" font-size="14" text-anchor="start" font-weight="bold" >C</text>
<rect x="88.50" y="335.50" width="12.30" height="12.30" fill="#ffffff" stroke="#111" stroke-width="1.3"/>
<path d="M106.50 336.10L108.10 336.10L108.10 346.40L106.50 346.40L106.50 338.70Q105.30 339.90 103.40 340.30L103.40 338.80Q105.70 338.00 106.50 336.10Z" fill="#000"/>
<rect x="122.50" y="335.50" width="12.30" height="12.30" fill="#d9d9d9" stroke="#111" stroke-width="1.3"/>
<text x="136.50" y="346.70" font-size="14.6" font-weight="normal" stroke="#000" stroke-width="0.35">2</text>
<rect x="88.50" y="356.50" width="12.30" height="12.30" fill="#626262" stroke="#111" stroke-width="1.3"/>
<text x="102.40" y="367.10" font-size="14.6" font-weight="normal" stroke="#000" stroke-width="0.35">3</text>
<rect x="122.50" y="356.50" width="12.30" height="12.30" fill="#000000" stroke="#111" stroke-width="1.3"/>
<text x="136.50" y="367.10" font-size="14.6" font-weight="normal" stroke="#000" stroke-width="0.35">4</text>
<text transform="translate(36.9,349.0) rotate(-90)" font-size="14.5" font-weight="bold" text-anchor="middle">Aggregation (%)</text>
<text x="96.65" y="451.80" font-size="14" text-anchor="middle" font-weight="bold" >D</text>
<text x="139.35" y="451.80" font-size="14" text-anchor="middle" font-weight="bold" >5</text>
<text x="182.05" y="451.80" font-size="14" text-anchor="middle" font-weight="bold" >U</text>
<text x="224.75" y="451.80" font-size="14" text-anchor="middle" font-weight="bold" >1</text>
<text x="267.45" y="451.80" font-size="14" text-anchor="middle" font-weight="bold" >2.5</text>
<text x="310.15" y="451.80" font-size="14" text-anchor="middle" font-weight="bold" >5</text>
<rect x="120.9" y="459.3" width="36" height="2.1" fill="#000"/>
<rect x="220.1" y="459.3" width="106.3" height="2.1" fill="#000"/>
<text x="140.50" y="478.20" font-size="14" text-anchor="middle" font-weight="bold"  letter-spacing="0.6">Comp</text>
<text x="140.08" y="496.50" font-size="14" text-anchor="middle" font-weight="bold"  letter-spacing="0.55">[<tspan font-family="Liberation Serif, serif" font-weight="normal">μ</tspan>M/mouse]</text>
<text x="274.35" y="478.20" font-size="14" text-anchor="middle" font-weight="bold"  letter-spacing="0.5">U46619 + Comp</text>
<text x="274.97" y="496.50" font-size="14" text-anchor="middle" font-weight="bold"  letter-spacing="0.55">[<tspan font-family="Liberation Serif, serif" font-weight="normal">μ</tspan>M/mouse]</text>
<line x1="438.50" y1="317.37" x2="438.50" y2="313.50" stroke="#111" stroke-width="1.3"/>
<line x1="436.30" y1="313.65" x2="440.70" y2="313.65" stroke="#111" stroke-width="1.6"/>
<line x1="448.50" y1="317.37" x2="448.50" y2="312.94" stroke="#111" stroke-width="1.3"/>
<line x1="446.30" y1="313.09" x2="450.70" y2="313.09" stroke="#111" stroke-width="1.6"/>
<line x1="457.50" y1="317.37" x2="457.50" y2="311.95" stroke="#111" stroke-width="1.3"/>
<line x1="455.30" y1="312.10" x2="459.70" y2="312.10" stroke="#111" stroke-width="1.6"/>
<line x1="467.50" y1="317.37" x2="467.50" y2="313.50" stroke="#111" stroke-width="1.3"/>
<line x1="465.30" y1="313.65" x2="469.70" y2="313.65" stroke="#111" stroke-width="1.6"/>
<rect x="433.50" y="317.37" width="10.00" height="110.53" fill="#ffffff" stroke="#111" stroke-width="1.2"/>
<rect x="443.50" y="317.37" width="9.00" height="110.53" fill="#c0c0c0" stroke="#111" stroke-width="1.2"/>
<rect x="452.50" y="317.37" width="10.00" height="110.53" fill="#858585" stroke="#111" stroke-width="1.2"/>
<rect x="462.50" y="317.37" width="10.00" height="110.53" fill="#000000" stroke="#111" stroke-width="1.2"/>
<line x1="490.50" y1="315.15" x2="490.50" y2="309.40" stroke="#111" stroke-width="1.3"/>
<line x1="488.30" y1="309.55" x2="492.70" y2="309.55" stroke="#111" stroke-width="1.6"/>
<line x1="499.50" y1="316.37" x2="499.50" y2="310.62" stroke="#111" stroke-width="1.3"/>
<line x1="497.30" y1="310.77" x2="501.70" y2="310.77" stroke="#111" stroke-width="1.6"/>
<line x1="509.50" y1="319.25" x2="509.50" y2="316.37" stroke="#111" stroke-width="1.3"/>
<line x1="507.30" y1="316.52" x2="511.70" y2="316.52" stroke="#111" stroke-width="1.6"/>
<line x1="518.50" y1="311.84" x2="518.50" y2="309.40" stroke="#111" stroke-width="1.3"/>
<line x1="516.30" y1="309.55" x2="520.70" y2="309.55" stroke="#111" stroke-width="1.6"/>
<rect x="485.50" y="315.15" width="9.00" height="112.75" fill="#ffffff" stroke="#111" stroke-width="1.2"/>
<rect x="494.50" y="316.37" width="10.00" height="111.53" fill="#c0c0c0" stroke="#111" stroke-width="1.2"/>
<rect x="504.50" y="319.25" width="10.00" height="108.65" fill="#858585" stroke="#111" stroke-width="1.2"/>
<rect x="514.50" y="311.84" width="9.00" height="116.06" fill="#000000" stroke="#111" stroke-width="1.2"/>
<line x1="541.50" y1="319.25" x2="541.50" y2="315.15" stroke="#111" stroke-width="1.3"/>
<line x1="539.30" y1="315.30" x2="543.70" y2="315.30" stroke="#111" stroke-width="1.6"/>
<line x1="550.50" y1="312.28" x2="550.50" y2="307.63" stroke="#111" stroke-width="1.3"/>
<line x1="548.30" y1="307.78" x2="552.70" y2="307.78" stroke="#111" stroke-width="1.6"/>
<line x1="560.50" y1="319.58" x2="560.50" y2="314.05" stroke="#111" stroke-width="1.3"/>
<line x1="558.30" y1="314.20" x2="562.70" y2="314.20" stroke="#111" stroke-width="1.6"/>
<line x1="570.50" y1="313.72" x2="570.50" y2="308.41" stroke="#111" stroke-width="1.3"/>
<line x1="568.30" y1="308.56" x2="572.70" y2="308.56" stroke="#111" stroke-width="1.6"/>
<rect x="536.50" y="319.25" width="10.00" height="108.65" fill="#ffffff" stroke="#111" stroke-width="1.2"/>
<rect x="546.50" y="312.28" width="9.00" height="115.62" fill="#c0c0c0" stroke="#111" stroke-width="1.2"/>
<rect x="555.50" y="319.58" width="10.00" height="108.32" fill="#858585" stroke="#111" stroke-width="1.2"/>
<rect x="565.50" y="313.72" width="9.00" height="114.18" fill="#000000" stroke="#111" stroke-width="1.2"/>
<line x1="592.50" y1="320.80" x2="592.50" y2="315.15" stroke="#111" stroke-width="1.3"/>
<line x1="590.30" y1="315.30" x2="594.70" y2="315.30" stroke="#111" stroke-width="1.6"/>
<line x1="602.50" y1="316.37" x2="602.50" y2="309.40" stroke="#111" stroke-width="1.3"/>
<line x1="600.30" y1="309.55" x2="604.70" y2="309.55" stroke="#111" stroke-width="1.6"/>
<line x1="612.50" y1="315.15" x2="612.50" y2="309.40" stroke="#111" stroke-width="1.3"/>
<line x1="610.30" y1="309.55" x2="614.70" y2="309.55" stroke="#111" stroke-width="1.6"/>
<line x1="621.50" y1="315.15" x2="621.50" y2="309.40" stroke="#111" stroke-width="1.3"/>
<line x1="619.30" y1="309.55" x2="623.70" y2="309.55" stroke="#111" stroke-width="1.6"/>
<rect x="588.50" y="320.80" width="9.00" height="107.10" fill="#ffffff" stroke="#111" stroke-width="1.2"/>
<rect x="597.50" y="316.37" width="10.00" height="111.53" fill="#c0c0c0" stroke="#111" stroke-width="1.2"/>
<rect x="607.50" y="315.15" width="9.00" height="112.75" fill="#858585" stroke="#111" stroke-width="1.2"/>
<rect x="616.50" y="315.15" width="10.00" height="112.75" fill="#000000" stroke="#111" stroke-width="1.2"/>
<line x1="643.50" y1="312.06" x2="643.50" y2="307.41" stroke="#111" stroke-width="1.3"/>
<line x1="641.30" y1="307.56" x2="645.70" y2="307.56" stroke="#111" stroke-width="1.6"/>
<line x1="653.50" y1="314.27" x2="653.50" y2="310.18" stroke="#111" stroke-width="1.3"/>
<line x1="651.30" y1="310.33" x2="655.70" y2="310.33" stroke="#111" stroke-width="1.6"/>
<line x1="662.50" y1="316.15" x2="662.50" y2="309.51" stroke="#111" stroke-width="1.3"/>
<line x1="660.30" y1="309.66" x2="664.70" y2="309.66" stroke="#111" stroke-width="1.6"/>
<line x1="672.50" y1="316.15" x2="672.50" y2="312.28" stroke="#111" stroke-width="1.3"/>
<line x1="670.30" y1="312.43" x2="674.70" y2="312.43" stroke="#111" stroke-width="1.6"/>
<rect x="638.50" y="312.06" width="10.00" height="115.84" fill="#ffffff" stroke="#111" stroke-width="1.2"/>
<rect x="648.50" y="314.27" width="10.00" height="113.63" fill="#c0c0c0" stroke="#111" stroke-width="1.2"/>
<rect x="658.50" y="316.15" width="9.00" height="111.75" fill="#858585" stroke="#111" stroke-width="1.2"/>
<rect x="667.50" y="316.15" width="10.00" height="111.75" fill="#000000" stroke="#111" stroke-width="1.2"/>
<rect x="428.00" y="273.00" width="255.00" height="154.90" fill="none" stroke="#000" stroke-width="1.6"/>
<line x1="428.00" y1="411.30" x2="431.60" y2="411.30" stroke="#000" stroke-width="1.5"/>
<line x1="428.00" y1="394.71" x2="431.60" y2="394.71" stroke="#000" stroke-width="1.5"/>
<line x1="428.00" y1="378.11" x2="431.60" y2="378.11" stroke="#000" stroke-width="1.5"/>
<line x1="428.00" y1="361.51" x2="431.60" y2="361.51" stroke="#000" stroke-width="1.5"/>
<line x1="428.00" y1="344.92" x2="431.60" y2="344.92" stroke="#000" stroke-width="1.5"/>
<line x1="428.00" y1="328.32" x2="431.60" y2="328.32" stroke="#000" stroke-width="1.5"/>
<line x1="428.00" y1="311.73" x2="431.60" y2="311.73" stroke="#000" stroke-width="1.5"/>
<line x1="428.00" y1="295.13" x2="431.60" y2="295.13" stroke="#000" stroke-width="1.5"/>
<line x1="428.00" y1="278.53" x2="431.60" y2="278.53" stroke="#000" stroke-width="1.5"/>
<line x1="477.90" y1="427.90" x2="477.90" y2="423.30" stroke="#000" stroke-width="1.5"/>
<line x1="528.90" y1="427.90" x2="528.90" y2="423.30" stroke="#000" stroke-width="1.5"/>
<line x1="579.90" y1="427.90" x2="579.90" y2="423.30" stroke="#000" stroke-width="1.5"/>
<line x1="630.90" y1="427.90" x2="630.90" y2="423.30" stroke="#000" stroke-width="1.5"/>
<text x="414.60" y="434.50" font-size="14" text-anchor="end" font-weight="bold" >0</text>
<text x="414.60" y="401.31" font-size="14" text-anchor="end" font-weight="bold" >30</text>
<text x="414.60" y="368.11" font-size="14" text-anchor="end" font-weight="bold" >60</text>
<text x="414.60" y="334.92" font-size="14" text-anchor="end" font-weight="bold" >90</text>
<text x="414.60" y="301.73" font-size="14" text-anchor="end" font-weight="bold" >120</text>
<text x="435.60" y="290.30" font-size="14" text-anchor="start" font-weight="bold" >D</text>
<rect x="554.50" y="285.50" width="12.30" height="12.30" fill="#ffffff" stroke="#111" stroke-width="1.3"/>
<path d="M572.70 286.10L574.30 286.10L574.30 296.40L572.70 296.40L572.70 288.70Q571.50 289.90 569.60 290.30L569.60 288.80Q571.90 288.00 572.70 286.10Z" fill="#000"/>
<rect x="589.50" y="285.50" width="12.30" height="12.30" fill="#d9d9d9" stroke="#111" stroke-width="1.3"/>
<text x="603.30" y="296.70" font-size="14.6" font-weight="normal" stroke="#000" stroke-width="0.35">2</text>
<rect x="618.50" y="285.50" width="12.30" height="12.30" fill="#626262" stroke="#111" stroke-width="1.3"/>
<text x="632.50" y="296.70" font-size="14.6" font-weight="normal" stroke="#000" stroke-width="0.35">3</text>
<rect x="652.50" y="285.50" width="12.30" height="12.30" fill="#000000" stroke="#111" stroke-width="1.3"/>
<text x="666.80" y="296.70" font-size="14.6" font-weight="normal" stroke="#000" stroke-width="0.35">4</text>
<text transform="translate(382.6,359.2) rotate(-90)" font-size="15" font-weight="bold" text-anchor="middle">Relative Cell Viability (%)</text>
<text x="452.00" y="453.80" font-size="14" text-anchor="middle" font-weight="bold" >D</text>
<text x="503.00" y="453.80" font-size="14" text-anchor="middle" font-weight="bold" >1</text>
<text x="554.00" y="453.80" font-size="14" text-anchor="middle" font-weight="bold" >2</text>
<text x="605.00" y="453.80" font-size="14" text-anchor="middle" font-weight="bold" >5</text>
<text x="656.00" y="453.80" font-size="14" text-anchor="middle" font-weight="bold" >10</text>
<text x="555.38" y="471.60" font-size="14" text-anchor="middle" font-weight="bold"  letter-spacing="0.55">Comp [<tspan font-family="Liberation Serif, serif" font-weight="normal">μ</tspan>M]</text>
</svg></body></html>
